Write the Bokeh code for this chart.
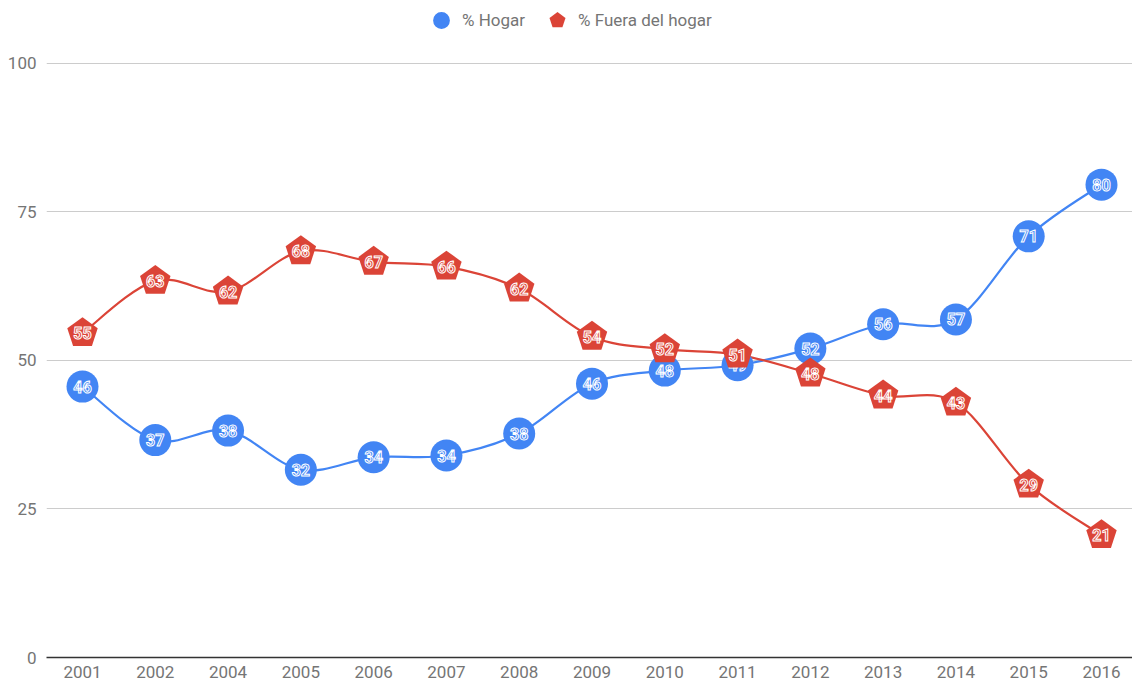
import numpy as np
from bokeh.plotting import figure
from bokeh.models import Range1d, FixedTicker, Legend, LegendItem, ColumnDataSource
from bokeh.core.properties import value
from bokeh.embed import file_html
from bokeh.resources import INLINE

years = ["2001", "2002", "2004", "2005", "2006", "2007", "2008", "2009",
         "2010", "2011", "2012", "2013", "2014", "2015", "2016"]
hogar = [45.6, 36.6, 38.2, 31.6, 33.7, 34.0, 37.7, 46.1,
         48.3, 49.2, 52.0, 56.1, 56.9, 70.9, 79.6]
fuera = [54.6, 63.4, 61.6, 68.4, 66.6, 65.8, 62.1, 54.0,
         51.9, 51.0, 47.8, 44.1, 42.9, 29.1, 20.6]
y_ticks = [0, 25, 50, 75, 100]
series_names = ["% Hogar", "% Fuera del hogar"]

BLUE = "#4285F4"
RED = "#DB4437"
GRAY = "#757575"
FONT = "Roboto"

xs = np.arange(len(years), dtype=float)

p = figure(width=1132, height=683, output_backend="svg", toolbar_location=None,
           x_range=Range1d(-0.4946, 14.426), y_range=Range1d(0, 110.6),
           min_border_left=46, min_border_right=0, min_border_top=0, min_border_bottom=26)
p.outline_line_color = None
p.background_fill_color = "white"

# axes
p.xaxis.ticker = FixedTicker(ticks=list(xs))
overrides = {}
for i, yr in enumerate(years):
    overrides[i] = yr
    overrides[float(i)] = yr
p.xaxis.major_label_overrides = overrides
p.xaxis.major_tick_out = 0
p.xaxis.major_tick_in = 0
p.xaxis.minor_tick_out = 0
p.xaxis.minor_tick_in = 0
p.xaxis.major_tick_line_color = None
p.xaxis.minor_tick_line_color = None
p.xaxis.axis_line_color = "#333333"
p.xaxis.axis_line_width = 1.5
p.xaxis.major_label_text_font = FONT
p.xaxis.major_label_text_font_size = "17px"
p.xaxis.major_label_text_color = GRAY
p.xaxis.major_label_standoff = 8

p.yaxis.ticker = FixedTicker(ticks=y_ticks)
p.yaxis.axis_line_color = None
p.yaxis.major_tick_out = 0
p.yaxis.major_tick_in = 0
p.yaxis.minor_tick_out = 0
p.yaxis.minor_tick_in = 0
p.yaxis.major_tick_line_color = None
p.yaxis.minor_tick_line_color = None
p.yaxis.major_label_text_font = FONT
p.yaxis.major_label_text_font_size = "17px"
p.yaxis.major_label_text_color = GRAY
p.yaxis.major_label_standoff = 10

p.xgrid.grid_line_color = None
p.ygrid.ticker = FixedTicker(ticks=y_ticks)
p.ygrid.grid_line_color = "#CCCCCC"
p.ygrid.grid_line_width = 1


def bezier_source(x, y):
    x = np.asarray(x, float)
    y = np.asarray(y, float)
    n = len(x)
    xp = np.concatenate([[x[0]], x, [x[-1]]])
    yp = np.concatenate([[y[0]], y, [y[-1]]])
    x0, y0, x1, y1 = x[:-1], y[:-1], x[1:], y[1:]
    cx0 = x0 + (xp[2:n + 1] - xp[0:n - 1]) / 6.0
    cy0 = y0 + (yp[2:n + 1] - yp[0:n - 1]) / 6.0
    cx1 = x1 - (xp[3:n + 2] - xp[1:n]) / 6.0
    cy1 = y1 - (yp[3:n + 2] - yp[1:n]) / 6.0
    return ColumnDataSource(dict(x0=x0, y0=y0, x1=x1, y1=y1,
                                 cx0=cx0, cy0=cy0, cx1=cx1, cy1=cy1))


# lines
p.bezier("x0", "y0", "x1", "y1", "cx0", "cy0", "cx1", "cy1",
         source=bezier_source(xs, hogar), line_color=BLUE, line_width=2.2)
p.bezier("x0", "y0", "x1", "y1", "cx0", "cy0", "cx1", "cy1",
         source=bezier_source(xs, fuera), line_color=RED, line_width=2.2)

label_kw = dict(text_align="center", text_baseline="middle",
                text_font=value(FONT), text_font_style="bold",
                text_font_size="16px", text_outline_color="white")

# blue markers + labels
p.scatter(xs, hogar, marker="circle", size=32, fill_color=BLUE, line_color=None)
p.text(xs, hogar, text=[str(int(round(v))) for v in hogar],
       text_color=BLUE, **label_kw)

# red markers + labels
p.ngon(xs, fuera, radius=16, radius_units="screen", n=5, angle=0,
       fill_color=RED, line_color=None)
p.text(xs, fuera, text=[str(int(round(v))) for v in fuera],
       text_color=RED, **label_kw)

# legend dummies
nan = [np.nan]
lg1 = p.scatter(nan, nan, marker="circle", size=17, fill_color=BLUE, line_color=None)
lg2 = p.ngon(nan, nan, radius=9, radius_units="screen", n=5, angle=0,
             fill_color=RED, line_color=None)

legend = Legend(items=[LegendItem(label=series_names[0], renderers=[lg1]),
                       LegendItem(label=series_names[1], renderers=[lg2])],
                orientation="horizontal", location=(374, 616),
                label_text_font=FONT, label_text_font_size="17px",
                label_text_color=GRAY, glyph_width=42, glyph_height=42,
                label_height=42, label_standoff=0, spacing=11, padding=0,
                margin=0, border_line_color=None, background_fill_alpha=0)
p.add_layout(legend, "center")

open("out.html", "w").write(file_html(p, INLINE))
